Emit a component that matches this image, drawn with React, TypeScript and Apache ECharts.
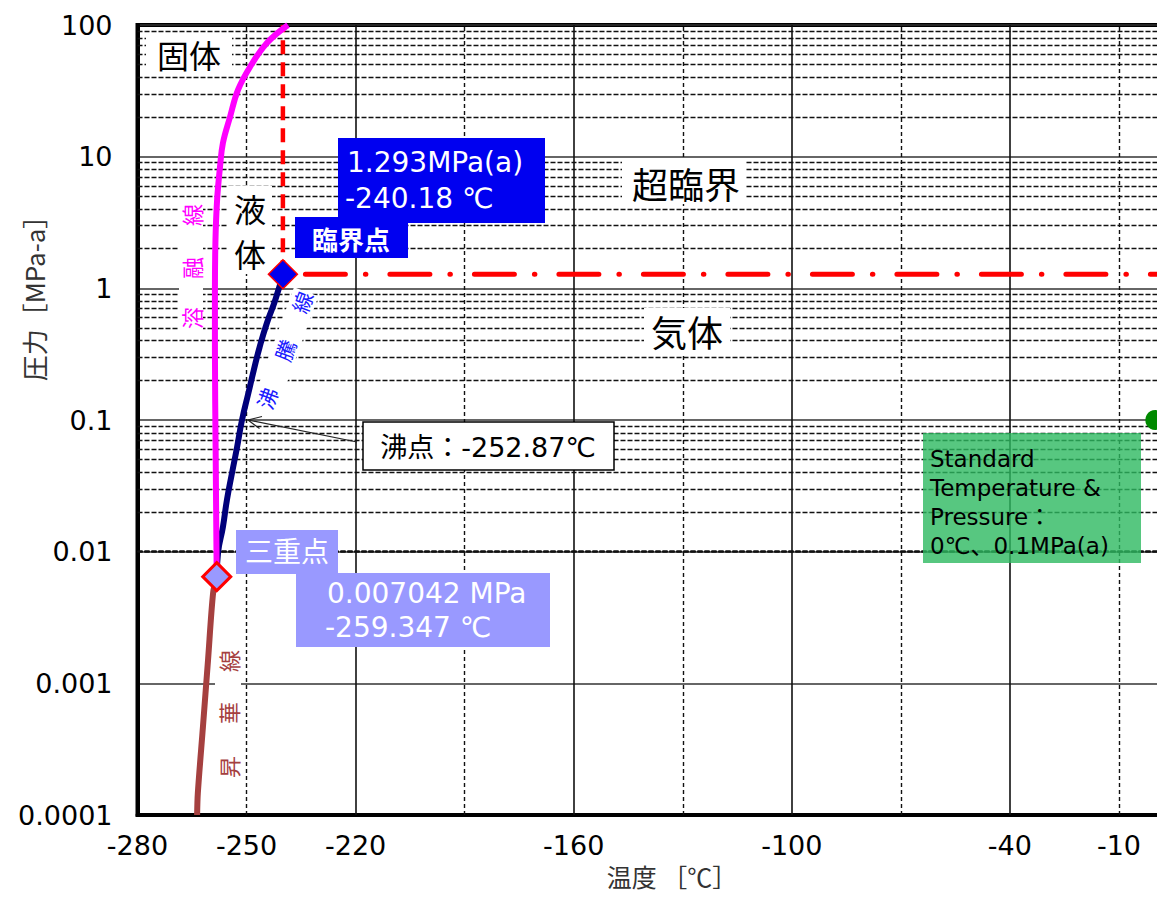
import React, { useEffect, useRef } from "react";
import * as echarts from "echarts";

// ---- axis ticks ----
const xTickLabels = ["-280", "-250", "-220", "-160", "-100", "-40", "-10"];
const yTickLabels = ["0.0001", "0.001", "0.01", "0.1", "1", "10", "100"];
const xMajorGrid = [-220, -160, -100, -40, 20];
const xMinorGrid = [-250, -190, -130, -70, -10];
const yDecades = [0.0001, 0.001, 0.01, 0.1, 1, 10];
const yMinorMultipliers = [2, 3, 4, 5, 6, 7, 8, 9];

// ---- phase curves (temperature ℃, pressure MPa) ----
const meltingT = [-258.2, -258.3, -258.5, -258.7, -258.7, -258.55, -258.1, -257.3, -256.5, -254.55, -252.35, -249.05, -244.4, -238.6];
const meltingP = [0.00646, 0.0123, 0.0592, 0.34, 0.97, 2.33, 4.7, 8.36, 12.7, 20.0, 32.1, 48.0, 73.0, 100];

const boilingT = [-258.2, -257.85, -256.5, -255.4, -254.0, -252.6, -251.25, -249.5, -248.0, -246.4, -244.4, -242.1, -240.0];
const boilingP = [0.00646, 0.0098, 0.0154, 0.0247, 0.0396, 0.0624, 0.1, 0.16, 0.24, 0.358, 0.546, 0.815, 1.28];

const sublimationT = [-258.2, -259.2, -260.6, -262.0, -263.4, -263.6];
const sublimationP = [0.00646, 0.00485, 0.0015, 0.000466, 0.000147, 0.0001];

const criticalPoint = [-240.0, 1.28];
const triplePoint = [-258.2, 0.00646];
const stpPoint = [0, 0.1];
const xMax = 20;
const yMax = 100;

const LATIN = "'DejaVu Sans', 'Noto Sans CJK JP', sans-serif";
const CJK = "'Noto Sans CJK JP', 'DejaVu Sans', sans-serif";

function txt(text: string, x: number, y: number, opts: any = {}) {
  const {
    size = 26, color = "#000", family = CJK, align = "center", vAlign = "middle",
    rotation = 0, weight = "normal", lineHeight, z = 20,
  } = opts;
  return {
    type: "text",
    x, y, rotation, z,
    silent: true,
    style: {
      text, fill: color, fontSize: size, fontFamily: family, fontWeight: weight,
      align, verticalAlign: vAlign, textAlign: align, textVerticalAlign: vAlign,
      lineHeight: lineHeight || Math.round(size * 1.25),
    },
  };
}

function box(x: number, y: number, w: number, h: number, fill: string, z = 6, extra: any = {}) {
  return {
    type: "rect", z, silent: true,
    shape: { x, y, width: w, height: h },
    style: { fill, ...extra },
  };
}

const CHART_W = 1260;

export default function App() {
  const ref = useRef<HTMLDivElement>(null);

  useEffect(() => {
    if (!ref.current) return;
    const chart = echarts.init(ref.current, null, { renderer: "svg" });

    const yMinor = yDecades.flatMap((d) => yMinorMultipliers.map((m) => +(d * m).toPrecision(3)));
    const gridLines: any[] = [
      ...yMinor.map((v) => ({ yAxis: v, lineStyle: { type: [5, 2], width: 1.3, color: "#111" } })),
      ...xMajorGrid.map((v) => ({ xAxis: v, lineStyle: { type: "solid", width: 1.6, color: "#111" } })),
      ...xMinorGrid.map((v) => ({ xAxis: v, lineStyle: { type: [4, 3], width: 1.4, color: "#111" } })),
    ];

    const zip = (a: number[], b: number[]) => a.map((t, i) => [t, b[i]]);

    const rot90 = Math.PI / 2;
    const rotBoil = (70 * Math.PI) / 180;

    const option: any = {
      animation: false,
      grid: {
        left: 137.5, top: 25, right: CHART_W - 1228, bottom: 83,
        show: true, borderColor: "#000", borderWidth: 4, backgroundColor: "#fff",
      },
      xAxis: {
        type: "value", min: -280, max: xMax, interval: 30,
        axisLine: { show: true, onZero: false, lineStyle: { color: "#000", width: 4 } },
        axisTick: { show: false },
        splitLine: { show: false },
        axisLabel: {
          margin: 17, fontSize: 27, fontFamily: LATIN, color: "#000",
          formatter: (v: number) => (xTickLabels.includes(String(v)) ? String(v) : ""),
        },
      },
      yAxis: {
        type: "log", logBase: 10, min: 0.0001, max: yMax,
        axisLine: { show: true, onZero: false, lineStyle: { color: "#000", width: 4 } },
        axisTick: { show: false },
        splitLine: { show: true, lineStyle: { color: "#333", width: 1.6 } },
        axisLabel: {
          margin: 25, fontSize: 27, fontFamily: LATIN, color: "#000",
          formatter: (v: number) => {
            const i = Math.round(Math.log10(v)) + 4;
            return yTickLabels[i] ?? "";
          },
        },
      },
      series: [
        {
          name: "grid", type: "line", data: [], z: 1, silent: true,
          markLine: {
            z: 1, silent: true, symbol: ["none", "none"], label: { show: false },
            emphasis: { disabled: true }, data: gridLines,
          },
        },
        {
          name: "昇華線", type: "line", z: 3, smooth: 0.3, showSymbol: false, silent: true,
          lineStyle: { color: "#a5403f", width: 6 },
          data: zip(sublimationT, sublimationP),
        },
        {
          name: "沸騰線", type: "line", z: 3, smooth: 0.5, showSymbol: false, silent: true,
          lineStyle: { color: "#00007a", width: 6 },
          data: zip(boilingT, boilingP),
        },
        {
          name: "溶融線", type: "line", z: 4, smooth: 0.4, showSymbol: false, silent: true,
          lineStyle: { color: "#ff00ff", width: 6 },
          data: zip(meltingT, meltingP),
        },
        {
          name: "crit-v", type: "line", z: 3, showSymbol: false, silent: true,
          lineStyle: { color: "#ff0000", width: 4.5, type: [14, 8], cap: "butt" },
          data: [criticalPoint, [criticalPoint[0], yMax]],
        },
        {
          name: "crit-h", type: "line", z: 3, showSymbol: false, silent: true,
          lineStyle: { color: "#ff0000", width: 5, type: [40, 20, 0.5, 24], dashOffset: 62, cap: "round" },
          data: [criticalPoint, [xMax, criticalPoint[1]]],
        },
        {
          name: "臨界点", type: "scatter", z: 8, symbol: "diamond", symbolSize: 29, silent: true,
          itemStyle: { color: "#0000ee", borderColor: "#ff0000", borderWidth: 1.5, opacity: 1 },
          data: [criticalPoint],
        },
        {
          name: "三重点", type: "scatter", z: 8, symbol: "diamond", symbolSize: 28, silent: true,
          itemStyle: { color: "#9999ff", borderColor: "#ff0000", borderWidth: 3, opacity: 1 },
          data: [triplePoint],
        },
        {
          name: "STP", type: "scatter", z: 8, symbol: "circle", symbolSize: 20, silent: true,
          itemStyle: { color: "#008a00", opacity: 1 },
          data: [stpPoint],
        },
      ],
      graphic: {
        elements: [
          // phase labels
          box(146, 33, 86, 41, "#fff", 2),
          txt("固体", 189, 54, { size: 32 }),
          box(228, 186, 44, 88, "#fff", 2),
          txt("液\n体", 250, 230, { size: 32, lineHeight: 45 }),
          box(622, 160, 124, 44, "#fff", 2),
          txt("超臨界", 686, 183, { size: 36 }),
          box(644, 308, 86, 46, "#fff", 2),
          txt("気体", 687, 331, { size: 36 }),

          // curve names
          box(179, 200, 24, 135, "#fff", 2),
          txt("溶", 191, 318, { size: 22, color: "#ff00ff", rotation: rot90 }),
          txt("融", 191, 268, { size: 22, color: "#ff00ff", rotation: rot90 }),
          txt("線", 191, 215, { size: 22, color: "#ff00ff", rotation: rot90 }),
          {
            type: "rect", z: 2, silent: true, x: 285, y: 350, rotation: rotBoil,
            shape: { x: -62, y: -13, width: 124, height: 26 }, style: { fill: "#fff" },
          },
          txt("沸", 267, 398, { size: 21, color: "#1a1aff", rotation: rotBoil }),
          txt("騰", 285, 350, { size: 21, color: "#1a1aff", rotation: rotBoil }),
          txt("線", 302, 302, { size: 21, color: "#1a1aff", rotation: rotBoil }),
          box(215, 645, 26, 140, "#fff", 2),
          txt("昇", 228, 767, { size: 22, color: "#a5403f", rotation: rot90 }),
          txt("華", 228, 713, { size: 22, color: "#a5403f", rotation: rot90 }),
          txt("線", 228, 661, { size: 22, color: "#a5403f", rotation: rot90 }),

          // critical point callout
          box(338, 138, 207, 85, "#0000f0", 6),
          box(295, 217, 113, 41, "#0000f0", 6),
          txt("1.293MPa(a)", 347, 162, { size: 28, color: "#fff", family: LATIN, align: "left" }),
          txt("-240.18 ℃", 345, 198, { size: 28, color: "#fff", family: LATIN, align: "left" }),
          txt("臨界点", 351, 238, { size: 26, color: "#fff", weight: "bold" }),

          // boiling point callout
          box(363, 422, 251, 48, "#fff", 6, { stroke: "#000", lineWidth: 1.5 }),
          txt("沸点：-252.87℃", 488, 447, { size: 27, family: LATIN }),
          {
            type: "line", z: 7, silent: true,
            shape: { x1: 357, y1: 442, x2: 248, y2: 420 },
            style: { stroke: "#222", lineWidth: 1.2 },
          },
          {
            type: "polyline", z: 7, silent: true,
            shape: { points: [[262, 416.5], [248, 420], [259.5, 428.5]] },
            style: { stroke: "#222", lineWidth: 1.2, fill: null },
          },

          // triple point callout
          box(236, 530, 102, 44, "#9999ff", 6),
          box(296, 573, 254, 74, "#9999ff", 6),
          txt("三重点", 287, 550, { size: 28, color: "#fff" }),
          txt("0.007042 MPa", 327, 593, { size: 28, color: "#fff", family: LATIN, align: "left" }),
          txt("-259.347 ℃", 325, 627, { size: 28, color: "#fff", family: LATIN, align: "left" }),

          // STP callout
          box(923, 433, 218, 130, "rgba(45,185,96,0.8)", 6),
          txt("Standard\nTemperature &\nPressure：\n0℃、0.1MPa(a)", 930, 444, {
            size: 23, family: LATIN, align: "left", vAlign: "top", lineHeight: 29,
          }),

          // axis names
          txt("温度 ［℃］", 672, 876, { size: 25, color: "#333", lineHeight: 26 }),
          txt("圧力［MPa-a］", 33, 292, { size: 26, color: "#333", rotation: rot90 }),
        ],
      },
    };

    chart.setOption(option);
    return () => chart.dispose();
  }, []);

  return (
    <div style={{ position: "absolute", left: 0, top: 0, width: 1157, height: 898, overflow: "hidden", background: "#fff" }}>
      <div ref={ref} style={{ width: CHART_W, height: 898 }} />
    </div>
  );
}
